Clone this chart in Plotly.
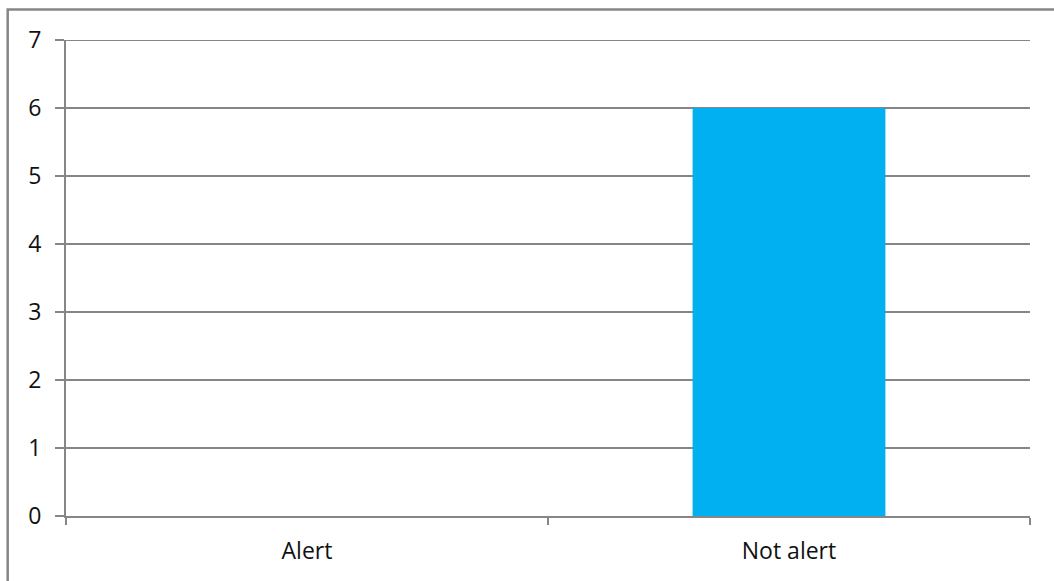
import plotly.graph_objects as go

categories = ["Alert", "Not alert"]
counts = [0, 6]
y_ticks = [0, 1, 2, 3, 4, 5, 6, 7]
y_max = 7

axis_grey = "#868686"

fig = go.Figure(
    go.Bar(
        x=categories,
        y=counts,
        width=0.4,
        marker=dict(color="#00B0F0", line=dict(width=0)),
    )
)

fig.update_layout(
    width=1054,
    height=581,
    margin=dict(l=66, r=24, t=40, b=65),
    paper_bgcolor="white",
    plot_bgcolor="white",
    showlegend=False,
    font=dict(family="Open Sans, Carlito, Liberation Sans, sans-serif", size=23, color="#111111"),
    shapes=[
        # frame around the chart area
        dict(
            type="rect", xref="paper", yref="paper",
            x0=-0.0605, x1=1.2, y0=-0.3, y1=1.064,
            line=dict(color=axis_grey, width=2.5), fillcolor="rgba(0,0,0,0)",
            layer="below",
        ),
        # top gridline at the axis maximum
        dict(
            type="line", xref="paper", yref="y",
            x0=0, x1=1, y0=y_max, y1=y_max,
            line=dict(color=axis_grey, width=2.2),
            layer="below",
        ),
    ],
)

fig.update_xaxes(
    type="category",
    range=[-0.5, 1.5],
    showgrid=False,
    showline=True,
    linecolor=axis_grey,
    linewidth=2.2,
    ticks="outside",
    tickson="boundaries",
    ticklen=7,
    tickwidth=2,
    tickcolor=axis_grey,
    ticklabelstandoff=13,
    tickfont=dict(size=23),
    zeroline=False,
)

fig.update_yaxes(
    range=[0, y_max],
    tickvals=y_ticks,
    showgrid=True,
    gridcolor=axis_grey,
    gridwidth=2.2,
    showline=True,
    linecolor=axis_grey,
    linewidth=2.2,
    ticks="outside",
    ticklen=9,
    tickwidth=2,
    tickcolor=axis_grey,
    ticklabelstandoff=9,
    tickfont=dict(size=23),
    zeroline=False,
)

fig.write_html("out.html")
